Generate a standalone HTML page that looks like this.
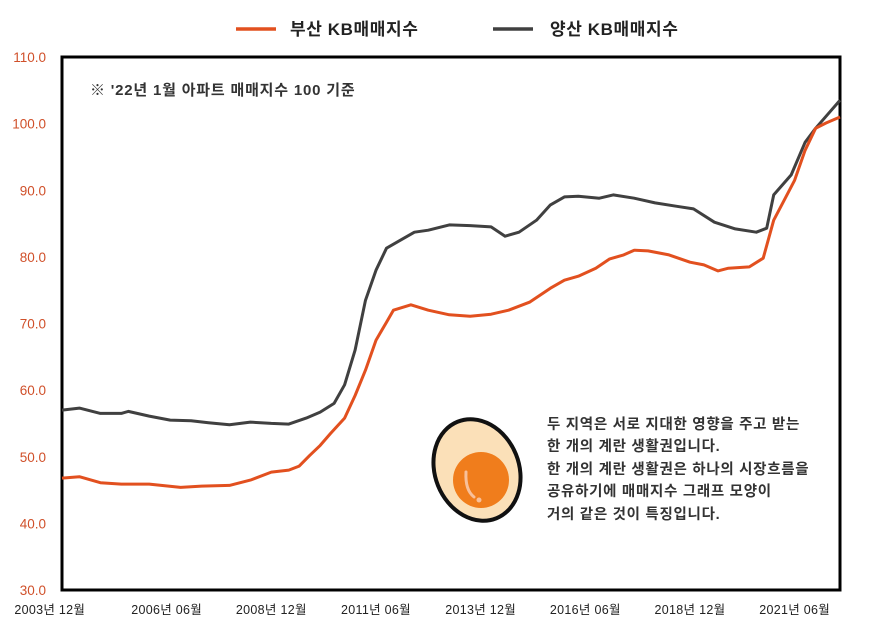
<!DOCTYPE html>
<html><head><meta charset="utf-8"><style>
body{margin:0;background:#fff;}
svg{display:block;font-family:"Liberation Sans","Noto Sans CJK KR",sans-serif;}
</style></head><body>
<svg id="chart" width="889" height="643">
<g>
<g><line x1="236" y1="29" x2="276" y2="29" stroke="#e2501f" stroke-width="3.5"/><text x="290" y="35" font-size="17" font-weight="bold" fill="#222" letter-spacing="0.6">부산 KB매매지수</text></g>
<g><line x1="493" y1="29" x2="533" y2="29" stroke="#404040" stroke-width="3.5"/><text x="550" y="35" font-size="17" font-weight="bold" fill="#222" letter-spacing="0.6">양산 KB매매지수</text></g>
</g>
<g id="yticks"></g>
<g id="xticks"></g>
<rect x="62" y="57" width="778" height="533" fill="none" stroke="#000" stroke-width="3"/>
<text x="90" y="95" font-size="15" font-weight="bold" fill="#333" letter-spacing="0.8">※ '22년 1월 아파트 매매지수 100 기준</text>
<g id="series"></g>
<g>
<ellipse cx="477" cy="470" rx="42" ry="52" transform="rotate(-22 477 470)" fill="#fbe0b8" stroke="#111" stroke-width="4"/>
<circle cx="481" cy="480" r="28" fill="#f07d1c"/>
<path d="M466 472 Q465 490 474 497" stroke="#f8c09a" stroke-width="3" fill="none" stroke-linecap="round"/>
<circle cx="479" cy="500" r="2.5" fill="#f8c09a"/>
</g>
<g font-size="14.5" font-weight="bold" fill="#333" letter-spacing="0.7">
<text x="547" y="429">두 지역은 서로 지대한 영향을 주고 받는</text>
<text x="547" y="451">한 개의 계란 생활권입니다.</text>
<text x="547" y="474">한 개의 계란 생활권은 하나의 시장흐름을</text>
<text x="547" y="496">공유하기에 매매지수 그래프 모양이</text>
<text x="547" y="519">거의 같은 것이 특징입니다.</text>
</g>
</svg>
<script>
const yTicks=[30,40,50,60,70,80,90,100,110];
const xLabels=["2003년 12월","2006년 06월","2008년 12월","2011년 06월","2013년 12월","2016년 06월","2018년 12월","2021년 06월"];
const xLabelMonths=[-3.5,30,60,90,120,150,180,210];
const busanMonths=[0,5,11,17,25,34,40,48,54,60,65,68,71,74,77,81,84,87,90,93,95,100,105,111,117,123,128,134,140,144,148,153,157,161,164,168,174,180,184,188,191,197,201,204,207,210,213,216,219,223];
const busanValues=[46.8,47.0,46.1,45.9,45.9,45.4,45.6,45.7,46.5,47.7,48.0,48.6,50.2,51.7,53.5,55.8,59.2,63.0,67.5,70.2,72.0,72.8,72.0,71.3,71.1,71.4,72.0,73.2,75.3,76.5,77.1,78.3,79.7,80.3,81.0,80.9,80.3,79.2,78.8,77.9,78.3,78.5,79.8,85.5,88.5,91.5,96.0,99.3,100.1,101.0];
const yangsanMonths=[0,5,11,17,19,25,31,37,42,48,54,60,65,70,74,78,81,84,87,90,93,97,101,105,111,117,123,127,131,136,140,144,148,154,158,164,170,176,181,187,193,199,202,204,209,213,216,220,223];
const yangsanValues=[57.0,57.3,56.5,56.5,56.8,56.1,55.5,55.4,55.1,54.8,55.2,55.0,54.9,55.8,56.7,58.0,60.8,66.0,73.5,78.0,81.3,82.5,83.7,84.0,84.8,84.7,84.5,83.1,83.7,85.5,87.8,89.0,89.1,88.8,89.3,88.8,88.1,87.6,87.2,85.2,84.2,83.7,84.3,89.3,92.3,97.2,99.3,101.7,103.5];
const NS="http://www.w3.org/2000/svg";
const X=m=>62+m*778/223;
const Y=v=>590-(v-30)*533/80;
const yg=document.getElementById('yticks');
yTicks.forEach(v=>{const t=document.createElementNS(NS,'text');


t.setAttribute('x',46);t.setAttribute('y',Y(v)+5);t.setAttribute('text-anchor','end');t.setAttribute('font-size','13.5');t.setAttribute('fill','#d0502a');t.textContent=v.toFixed(1);yg.appendChild(t);});
const xg=document.getElementById('xticks');
xLabels.forEach((s,i)=>{const t=document.createElementNS(NS,'text');


t.setAttribute('x',X(xLabelMonths[i]));t.setAttribute('y',614);t.setAttribute('text-anchor','middle');t.setAttribute('font-size','12.5');t.setAttribute('letter-spacing','0.3');t.setAttribute('fill','#222');t.textContent=s;xg.appendChild(t);});
const sg=document.getElementById('series');
function line(ms,vs,c,name){const p=document.createElementNS(NS,'polyline');


p.setAttribute('points',ms.map((m,i)=>X(m).toFixed(1)+','+Y(vs[i]).toFixed(1)).join(' '));
p.setAttribute('fill','none');p.setAttribute('stroke',c);p.setAttribute('stroke-width','3');p.setAttribute('stroke-linejoin','round');sg.appendChild(p);}
line(yangsanMonths,yangsanValues,'#404040','yangsan-line');
line(busanMonths,busanValues,'#e2501f','busan-line');
</script>
</body></html>
